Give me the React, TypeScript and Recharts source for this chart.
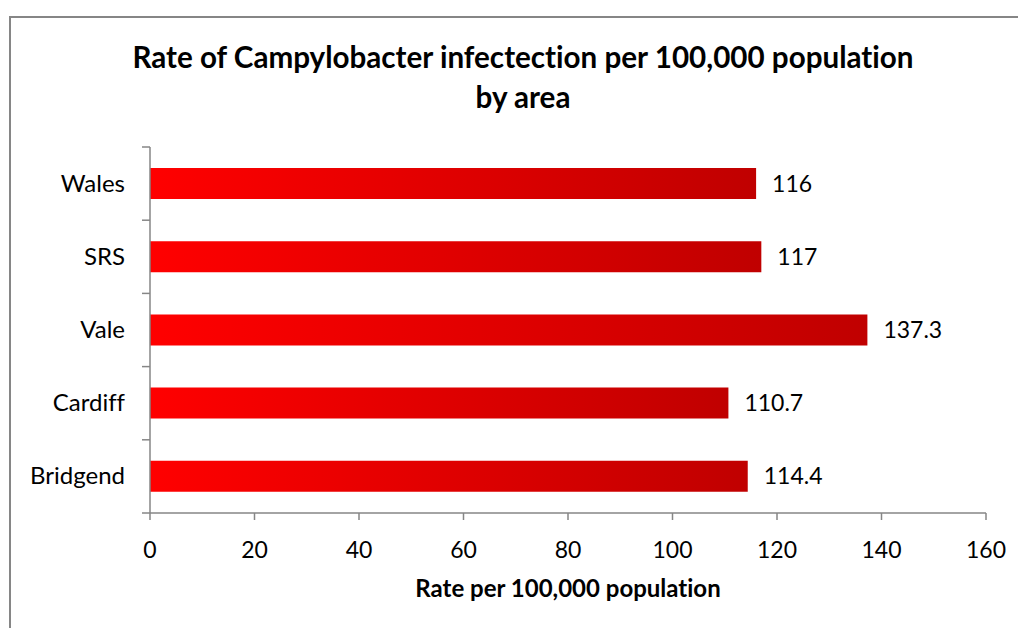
import React from "react";
import { BarChart, Bar, XAxis, YAxis, LabelList } from "recharts";

const categories = ["Wales", "SRS", "Vale", "Cardiff", "Bridgend"];
const rates = [116, 117, 137.3, 110.7, 114.4];
const xTicks = [0, 20, 40, 60, 80, 100, 120, 140, 160];

const data = categories.map((c, i) => ({ area: c, rate: rates[i] }));

const W = 1018;
const H = 620;
const MARGIN = { top: 139, right: 40, bottom: 0, left: 0 };
const YAXIS_W = 142;
const XAXIS_H = 115;
const PLOT_H = H - MARGIN.top - MARGIN.bottom - XAXIS_H;
const BAND = PLOT_H / categories.length;
const AXIS_COLOR = "#868686";
const FONT = "Lato, 'Open Sans', sans-serif";

const YTick = (props: any) => {
  const { y, payload, index } = props;
  const ax = MARGIN.left + YAXIS_W;
  return (
    <g>
      <line x1={ax - 8} x2={ax} y1={y - BAND / 2} y2={y - BAND / 2} stroke={AXIS_COLOR} strokeWidth={1.5} />
      {index === categories.length - 1 && (
        <line x1={ax - 8} x2={ax} y1={y + BAND / 2} y2={y + BAND / 2} stroke={AXIS_COLOR} strokeWidth={1.5} />
      )}
      <text x={ax - 25} y={y + 8} textAnchor="end" fontSize={24} fill="#000" fontFamily={FONT}>
        {payload.value}
      </text>
    </g>
  );
};

export default function App() {
  return (
    <div style={{ position: "relative", width: W, height: H, fontFamily: FONT, fontVariantLigatures: "none" }}>
      <div
        style={{
          position: "absolute",
          left: 1,
          top: 8,
          width: 1100,
          height: 700,
          borderLeft: `2px solid ${AXIS_COLOR}`,
          borderTop: `2px solid ${AXIS_COLOR}`,
          boxSizing: "border-box",
        }}
      />
      <div
        style={{
          position: "absolute",
          left: 0,
          top: 29,
          width: 1030,
          textAlign: "center",
          fontWeight: 700,
          fontSize: 29.6,
          lineHeight: "40px",
          color: "#000",
        }}
      >
        Rate of Campylobacter infectection per 100,000 population
        <br />
        by area
      </div>
      <div
        style={{
          position: "absolute",
          left: MARGIN.left + YAXIS_W,
          width: W - MARGIN.right - MARGIN.left - YAXIS_W,
          top: 565,
          textAlign: "center",
          fontWeight: 700,
          fontSize: 24,
          color: "#000",
        }}
      >
        Rate per 100,000 population
      </div>
      <div style={{ position: "absolute", left: 0, top: 0 }}>
        <BarChart width={W} height={H} data={data} layout="vertical" margin={MARGIN} barSize={31}>
          <defs>
            <linearGradient id="barGrad" x1="0" y1="0" x2="1" y2="0">
              <stop offset="0%" stopColor="#FF0000" />
              <stop offset="100%" stopColor="#C00000" />
            </linearGradient>
          </defs>
          <XAxis
            type="number"
            domain={[0, 160]}
            ticks={xTicks}
            height={XAXIS_H}
            tickSize={7}
            tickMargin={22}
            axisLine={{ stroke: AXIS_COLOR, strokeWidth: 1.5 }}
            tickLine={{ stroke: AXIS_COLOR, strokeWidth: 1.5 }}
            tick={{ fontSize: 23, fill: "#000", fontFamily: FONT }}
            interval={0}
          />
          <YAxis
            type="category"
            dataKey="area"
            width={YAXIS_W}
            axisLine={{ stroke: AXIS_COLOR, strokeWidth: 1.5 }}
            tickLine={false}
            tick={<YTick />}
            interval={0}
          />
          <Bar dataKey="rate" fill="url(#barGrad)" isAnimationActive={false}>
            <LabelList dataKey="rate" position="right" offset={16} fill="#000" fontSize={23} fontFamily={FONT} />
          </Bar>
        </BarChart>
      </div>
    </div>
  );
}
